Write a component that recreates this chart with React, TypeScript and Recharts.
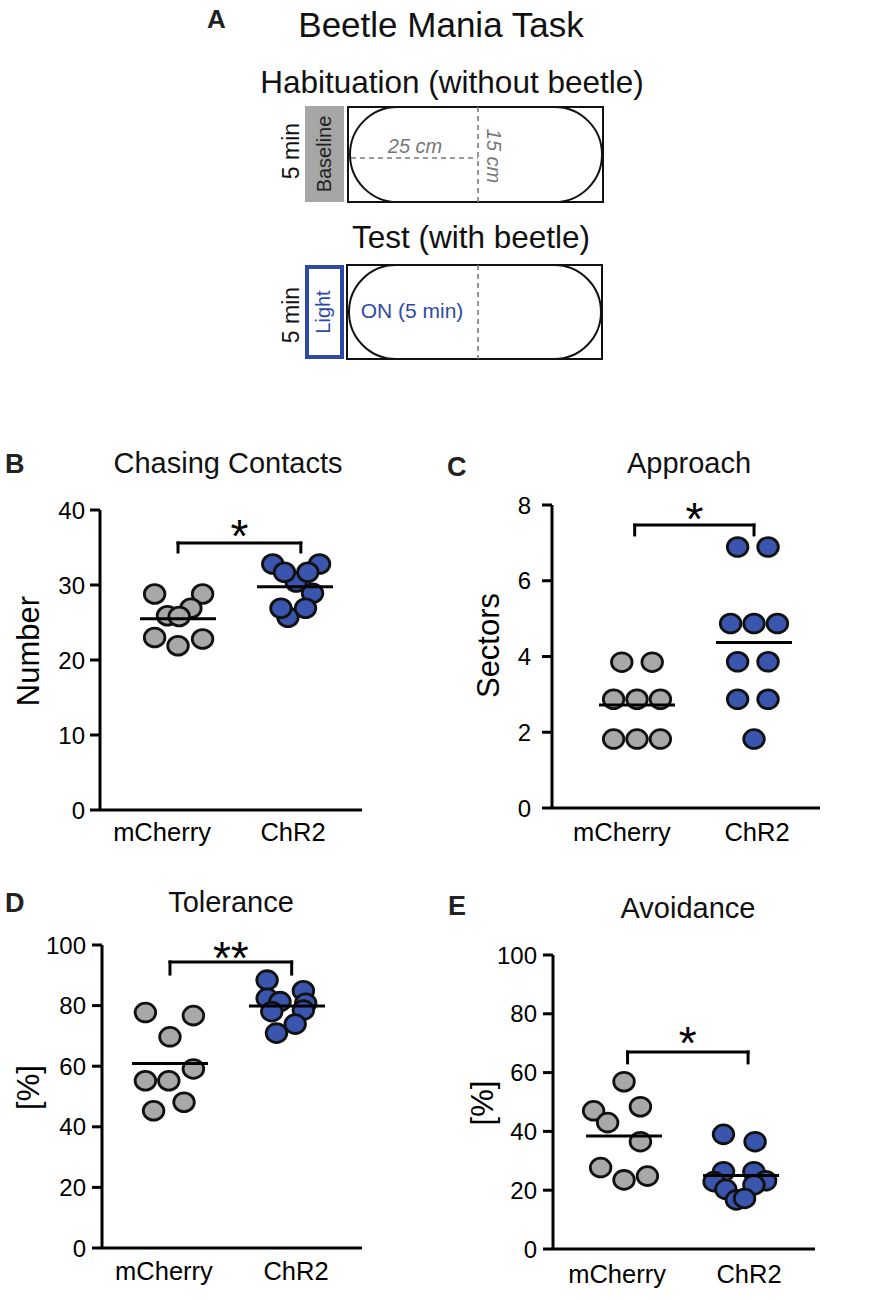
import React from 'react';
import { ScatterChart, Scatter, XAxis, YAxis, ReferenceLine } from 'recharts';

const FONT = '"Liberation Sans", Arial, Helvetica, sans-serif';
const GRAY = '#a8a8a8';
const BLUE = '#3a55ae';
const LIGHT_BLUE = '#2e4aa8';

const groups = ['mCherry', 'ChR2'];

// B: Chasing Contacts (Number)
const chasingMcherry = [28.8, 28.8, 26.9, 25.9, 25.8, 23.0, 22.8, 21.9];
const chasingMcherryJitter = [-0.2, 0.21, 0.11, -0.09, 0.01, -0.2, 0.21, 0.0];
const chasingChr2 = [30.4, 32.8, 32.8, 31.7, 31.7, 28.9, 25.7, 26.9, 26.9];
const chasingChr2Jitter = [0.01, -0.19, 0.21, -0.09, 0.11, 0.15, -0.06, -0.12, 0.09];
const chasingTicks = [0, 10, 20, 30, 40];

// C: Approach (Sectors)
const approachMcherry = [3.85, 3.85, 2.87, 2.87, 2.87, 1.82, 1.82, 1.82];
const approachMcherryJitter = [-0.13, 0.13, -0.2, 0, 0.2, -0.2, 0, 0.2];
const approachChr2 = [6.89, 6.89, 4.87, 4.87, 4.87, 3.86, 3.86, 2.87, 2.87, 1.82];
const approachChr2Jitter = [-0.14, 0.12, -0.2, 0, 0.2, -0.14, 0.12, -0.14, 0.12, 0];
const approachTicks = [0, 2, 4, 6, 8];

// D: Tolerance [%]
const toleranceMcherry = [77.7, 76.7, 69.7, 59.1, 55.2, 55.2, 48.1, 45.3];
const toleranceMcherryJitter = [-0.21, 0.2, 0, 0.2, -0.21, -0.01, 0.12, -0.14];
const toleranceChr2 = [88.4, 84.9, 82.4, 81.3, 80.8, 78.5, 78.0, 73.9, 70.9];
const toleranceChr2Jitter = [-0.17, 0.14, -0.17, -0.06, 0.16, 0.14, -0.13, 0.07, -0.09];
const percentTicks = [0, 20, 40, 60, 80, 100];

// E: Avoidance [%]
const avoidanceMcherry = [56.9, 47.0, 48.4, 43.0, 36.5, 27.7, 23.5, 24.8];
const avoidanceMcherryJitter = [0, -0.26, 0.14, -0.14, 0.14, -0.2, 0, 0.2];
const avoidanceChr2 = [39.0, 36.5, 26.3, 26.3, 22.9, 23.2, 21.8, 20.3, 16.7, 17.2];
const avoidanceChr2Jitter = [-0.15, 0.12, -0.15, 0.11, -0.23, 0.21, 0.11, -0.13, -0.04, 0.03];

const mean = (a: number[]) => a.reduce((s, v) => s + v, 0) / a.length;
const toPoints = (vals: number[], jit: number[], g: number) =>
  vals.map((v, i) => ({ x: g + jit[i], y: v }));

const makeDot = (fill: string) => (p: any) => {
  if (p.cx == null || p.cy == null) return <g />;
  return <ellipse cx={p.cx} cy={p.cy} rx={10.3} ry={9.4} fill={fill} stroke="#111" strokeWidth={2.8} />;
};

const MeanBar = (p: any) => {
  if (p.cx == null || p.cy == null) return <g />;
  return <line x1={p.cx - 38} x2={p.cx + 38} y1={p.cy} y2={p.cy} stroke="#000" strokeWidth={3} />;
};

type PanelProps = {
  left: number; top: number; width: number; height: number;
  margin: { top: number; right: number; bottom: number; left: number };
  xAxisHeight: number;
  xDomain: [number, number];
  yDomain: [number, number];
  yTicks: number[];
  tickMargin: number;
  yLabel: string; yLabelDx: number; yLabelDy: number;
  labelShift: [number, number]; labelGap: number;
  mcherry: number[]; mcherryJitter: number[];
  chr2: number[]; chr2Jitter: number[];
  bracket: { y: number; low: number; x1: number; x2: number; stars: string; offset: number };
};

function Panel(pp: PanelProps) {
  const m = toPoints(pp.mcherry, pp.mcherryJitter, 1);
  const c = toPoints(pp.chr2, pp.chr2Jitter, 2);
  const means = [{ x: 1, y: mean(pp.mcherry) }, { x: 2, y: mean(pp.chr2) }];
  const plotLeft = pp.margin.left + 60;
  const plotTop = pp.margin.top;
  const plotH = pp.height - pp.margin.top - pp.xAxisHeight;
  const b = pp.bracket;
  const line = { stroke: '#000', strokeWidth: 3 };
  return (
    <div style={{ position: 'absolute', left: pp.left, top: pp.top, width: pp.width, height: pp.height }}>
      <ScatterChart width={pp.width} height={pp.height} margin={pp.margin}>
        <XAxis
          type="number"
          dataKey="x"
          domain={pp.xDomain}
          allowDataOverflow
          ticks={[1, 2]}
          interval={0}
          tickLine={false}
          tickSize={0}
          tickMargin={0}
          height={pp.xAxisHeight}
          axisLine={{ stroke: '#000', strokeWidth: 3 }}
          tick={(t: any) => {
            const idx = t.payload.value < 1.5 ? 0 : 1;
            return (
              <text x={t.x + pp.labelShift[idx]} y={t.y + pp.labelGap} dy="0.72em" textAnchor="middle"
                fontSize={25.5} fontFamily={FONT} fill="#000">{groups[idx]}</text>
            );
          }}
        />
        <YAxis
          type="number"
          dataKey="y"
          domain={pp.yDomain}
          allowDataOverflow
          ticks={pp.yTicks}
          interval={0}
          width={60}
          tickSize={10}
          tickMargin={pp.tickMargin}
          tickLine={{ stroke: '#000', strokeWidth: 3 }}
          axisLine={{ stroke: '#000', strokeWidth: 3 }}
          tick={{ fontSize: 24, fill: '#000', fontFamily: FONT }}
          label={{
            content: (lp: any) => {
              const vb = lp && lp.viewBox;
              const ax = vb && vb.width != null ? vb.x + vb.width : plotLeft;
              const cyBase = vb && vb.height != null ? vb.y + vb.height / 2 : plotTop + plotH / 2;
              const cx = ax + pp.yLabelDx;
              const cy = cyBase + pp.yLabelDy;
              return (
                <text x={cx} y={cy} transform={`rotate(-90 ${cx} ${cy})`} textAnchor="middle"
                  dominantBaseline="central" fontSize={31} fontFamily={FONT} fill="#000">{pp.yLabel}</text>
              );
            },
          }}
        />
        <ReferenceLine
          segment={[{ x: b.x1, y: b.y }, { x: b.x2, y: b.y }]}
          {...line}
          strokeLinecap="square"
          label={{ value: b.stars, position: 'top', offset: b.offset, fontSize: 46, fill: '#000', fontFamily: FONT }}
        />
        <ReferenceLine segment={[{ x: b.x1, y: b.y }, { x: b.x1, y: b.low }]} {...line} strokeLinecap="square" />
        <ReferenceLine segment={[{ x: b.x2, y: b.y }, { x: b.x2, y: b.low }]} {...line} strokeLinecap="square" />
        <Scatter data={m} shape={makeDot(GRAY)} isAnimationActive={false} />
        <Scatter data={c} shape={makeDot(BLUE)} isAnimationActive={false} />
        <Scatter data={means} shape={MeanBar} isAnimationActive={false} />
      </ScatterChart>
    </div>
  );
}

function Overlay() {
  const dash = { stroke: '#7a7a7a', strokeWidth: 1.6, strokeDasharray: '5 4' };
  return (
    <svg width={892} height={1300} style={{ position: 'absolute', left: 0, top: 0, pointerEvents: 'none' }}
      fontFamily={FONT}>
      {/* Panel A */}
      <text x={207} y={28} fontSize={26} fontWeight="bold" fill="#222">A</text>
      <text x={441} y={37} fontSize={35} textAnchor="middle" fill="#111">Beetle Mania Task</text>
      <text x={452} y={93} fontSize={31.5} textAnchor="middle" fill="#111">Habituation (without beetle)</text>
      <rect x={348} y={107} width={255} height={95} fill="none" stroke="#111" strokeWidth={2} />
      <rect x={350} y={107} width={252} height={95} rx={47.5} ry={47.5} fill="none" stroke="#111" strokeWidth={2} />
      <line x1={478} y1={107} x2={478} y2={202} {...dash} />
      <line x1={351} y1={158} x2={478} y2={158} {...dash} />
      <text x={415} y={153} fontSize={20} fontStyle="italic" fill="#777" textAnchor="middle">25 cm</text>
      <text transform="translate(494 156) rotate(90)" fontSize={20} fontStyle="italic" fill="#777"
        textAnchor="middle" dominantBaseline="central">15 cm</text>
      <rect x={305} y={106} width={39} height={96} fill="#a6a6a6" />
      <text transform="translate(324 154) rotate(-90)" fontSize={20} textAnchor="middle"
        dominantBaseline="central" fill="#222">Baseline</text>
      <text transform="translate(291 151) rotate(-90)" fontSize={23} textAnchor="middle"
        dominantBaseline="central" fill="#111">5 min</text>

      <text x={471} y={248} fontSize={31.5} textAnchor="middle" fill="#111">Test (with beetle)</text>
      <rect x={347} y={265} width={255} height={94} fill="none" stroke="#111" strokeWidth={2} />
      <rect x={349} y={265} width={252} height={94} rx={47} ry={47} fill="none" stroke="#111" strokeWidth={2} />
      <line x1={478} y1={265} x2={478} y2={359} {...dash} />
      <rect x={307} y={267} width={35} height={90} fill="#fff" stroke={LIGHT_BLUE} strokeWidth={4} />
      <text transform="translate(323 312) rotate(-90)" fontSize={20} textAnchor="middle"
        dominantBaseline="central" fill={LIGHT_BLUE}>Light</text>
      <text transform="translate(291 315) rotate(-90)" fontSize={23} textAnchor="middle"
        dominantBaseline="central" fill="#111">5 min</text>
      <text x={412} y={318} fontSize={21} textAnchor="middle" fill={LIGHT_BLUE}>ON (5 min)</text>

      {/* Panel letters and titles */}
      <text x={5} y={473} fontSize={27} fontWeight="bold" fill="#222">B</text>
      <text x={228} y={473} fontSize={29} textAnchor="middle" fill="#111">Chasing Contacts</text>
      <text x={447} y={476} fontSize={27} fontWeight="bold" fill="#222">C</text>
      <text x={689} y={473} fontSize={29} textAnchor="middle" fill="#111">Approach</text>
      <text x={5} y={912} fontSize={27} fontWeight="bold" fill="#222">D</text>
      <text x={231} y={912} fontSize={29} textAnchor="middle" fill="#111">Tolerance</text>
      <text x={448} y={915} fontSize={27} fontWeight="bold" fill="#222">E</text>
      <text x={688} y={918} fontSize={29} textAnchor="middle" fill="#111">Avoidance</text>
    </svg>
  );
}

export default function App() {
  return (
    <div style={{ position: 'absolute', left: 0, top: 0, width: 892, height: 1300, background: '#fff', fontFamily: FONT, overflow: 'hidden' }}>
      <Panel
        left={0} top={440} width={380} height={430}
        margin={{ top: 70, right: 18, bottom: 0, left: 40 }} xAxisHeight={60}
        xDomain={[0.333, 2.573]} yDomain={[0, 40]} yTicks={chasingTicks} tickMargin={5}
        yLabel="Number" yLabelDx={-72} yLabelDy={-9}
        labelShift={[-16, -2]} labelGap={13}
        mcherry={chasingMcherry} mcherryJitter={chasingMcherryJitter}
        chr2={chasingChr2} chr2Jitter={chasingChr2Jitter}
        bracket={{ y: 35.6, low: 34.4, x1: 1.0, x2: 2.05, stars: '*', offset: -9 }}
      />
      <Panel
        left={440} top={440} width={390} height={428}
        margin={{ top: 65, right: 10, bottom: 0, left: 52 }} xAxisHeight={60}
        xDomain={[0.2735, 2.564]} yDomain={[0, 8]} yTicks={approachTicks} tickMargin={11}
        yLabel="Sectors" yLabelDx={-64} yLabelDy={-11}
        labelShift={[-15, 3]} labelGap={15}
        mcherry={approachMcherry} mcherryJitter={approachMcherryJitter}
        chr2={approachChr2} chr2Jitter={approachChr2Jitter}
        bracket={{ y: 7.47, low: 7.21, x1: 0.98, x2: 2.0, stars: '*', offset: -10 }}
      />
      <Panel
        left={0} top={870} width={380} height={430}
        margin={{ top: 75, right: 18, bottom: 0, left: 42 }} xAxisHeight={52}
        xDomain={[0.419, 2.641]} yDomain={[0, 100]} yTicks={percentTicks} tickMargin={6}
        yLabel="[%]" yLabelDx={-74} yLabelDy={-9}
        labelShift={[-6, 9]} labelGap={14}
        mcherry={toleranceMcherry} mcherryJitter={toleranceMcherryJitter}
        chr2={toleranceChr2} chr2Jitter={toleranceChr2Jitter}
        bracket={{ y: 94.4, low: 90.4, x1: 1.0, x2: 2.04, stars: '**', offset: -12 }}
      />
      <Panel
        left={440} top={870} width={390} height={430}
        margin={{ top: 85, right: 15, bottom: 0, left: 53 }} xAxisHeight={51}
        xDomain={[0.393, 2.632]} yDomain={[0, 100]} yTicks={percentTicks} tickMargin={6}
        yLabel="[%]" yLabelDx={-71} yLabelDy={1}
        labelShift={[-7, 8]} labelGap={16}
        mcherry={avoidanceMcherry} mcherryJitter={avoidanceMcherryJitter}
        chr2={avoidanceChr2} chr2Jitter={avoidanceChr2Jitter}
        bracket={{ y: 67.0, low: 63.3, x1: 1.03, x2: 2.06, stars: '*', offset: -7 }}
      />
      <Overlay />
    </div>
  );
}
